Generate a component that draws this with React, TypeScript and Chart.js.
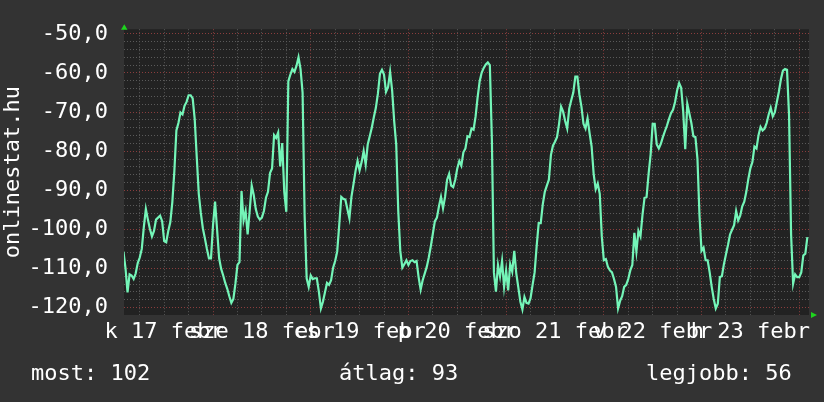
import { useEffect, useRef } from 'react';
import { Chart, registerables } from 'chart.js';

Chart.register(...registerables);

// hours since 17 Feb 00:00, one sample every half hour
const START_HOUR = 2;
const STEP_HOURS = 0.5;
const values = [
  -105.7, -110.0, -116.1, -111.5, -111.8, -112.7, -111.3, -108.6, -107.2, -105.0,
  -99.4, -94.8, -97.5, -99.9, -101.8, -100.4, -97.5, -97.0, -96.5, -97.9,
  -103.0, -103.3, -100.4, -98.2, -93.1, -85.1, -74.7, -72.8, -70.1, -70.6,
  -68.4, -67.4, -65.7, -65.7, -66.5, -71.8, -81.5, -90.9, -95.8, -99.7,
  -102.3, -105.0, -107.4, -107.4, -98.9, -92.9, -100.1, -107.4, -110.1, -111.8,
  -113.7, -115.2, -117.1, -118.8, -117.8, -113.9, -109.1, -108.4, -90.2, -97.7,
  -95.3, -101.3, -95.3, -88.8, -91.2, -94.8, -96.7, -97.5, -97.0, -95.3,
  -91.9, -90.4, -85.6, -84.4, -75.9, -76.6, -75.2, -83.9, -77.9, -90.4,
  -95.5, -62.1, -60.4, -59.0, -59.7, -58.2, -56.0, -59.0, -65.0, -96.5,
  -112.5, -114.7, -111.8, -112.7, -112.5, -112.5, -115.9, -120.2, -118.5, -116.1,
  -113.7, -114.2, -113.0, -109.8, -108.1, -105.7, -98.9, -91.7, -92.2, -92.4,
  -94.8, -97.2, -91.7, -88.5, -85.1, -82.5, -84.9, -82.8, -80.0, -83.4,
  -78.3, -76.2, -74.0, -71.3, -68.9, -65.3, -60.2, -59.2, -60.4, -64.8,
  -63.6, -59.7, -64.5, -72.3, -78.3, -95.3, -105.5, -109.8, -108.9, -107.9,
  -109.1, -108.1, -107.9, -108.4, -108.1, -112.2, -115.4, -113.0, -111.3, -109.6,
  -107.2, -104.3, -101.1, -97.9, -97.0, -94.1, -91.7, -94.6, -91.7, -87.3,
  -85.8, -88.8, -89.2, -87.3, -84.4, -82.5, -83.7, -80.3, -79.3, -76.2,
  -76.4, -74.2, -74.5, -71.1, -66.2, -62.1, -59.9, -58.7, -57.8, -57.3,
  -58.0, -77.1, -111.0, -115.9, -109.1, -112.0, -108.1, -114.7, -110.5, -115.6,
  -108.9, -110.8, -105.5, -111.3, -114.9, -118.5, -120.5, -117.3, -118.8, -119.0,
  -117.6, -114.2, -111.0, -104.3, -98.4, -98.4, -93.6, -90.4, -88.8, -87.3,
  -81.0, -78.6, -77.6, -76.4, -73.0, -68.6, -69.9, -72.3, -74.2, -69.1,
  -67.0, -65.0, -60.9, -60.9, -65.5, -68.6, -73.0, -74.2, -71.6, -75.4,
  -78.8, -85.8, -89.7, -88.3, -90.9, -101.8, -107.9, -107.6, -109.6, -110.5,
  -111.0, -112.7, -114.7, -120.2, -118.3, -117.1, -114.7, -114.2, -112.7, -110.5,
  -109.1, -100.9, -105.7, -100.4, -101.8, -96.3, -91.9, -91.7, -85.8, -80.8,
  -73.0, -73.0, -78.3, -79.3, -78.1, -76.4, -74.9, -73.5, -71.8, -70.3,
  -69.4, -67.4, -64.5, -62.6, -63.8, -69.9, -79.5, -67.9, -70.3, -72.8,
  -76.2, -76.4, -82.0, -96.5, -105.5, -104.7, -107.9, -107.9, -111.0, -114.7,
  -117.8, -120.2, -119.0, -112.2, -112.0, -108.9, -106.4, -104.0, -101.3, -100.1,
  -98.9, -95.3, -97.7, -96.5, -94.1, -92.9, -90.4, -87.1, -84.4, -82.8,
  -78.8, -79.3, -75.9, -73.8, -74.7, -74.2, -72.8, -70.6, -68.9, -71.1,
  -70.1, -67.4, -64.8, -61.6, -59.4, -59.0, -59.2, -70.8, -101.3, -113.9,
  -111.5, -112.2, -112.2, -111.0, -106.7, -106.2, -102.0,
];

// day labels, centred at noon of each day
const xTickLabels = ['k 17 febr', 'sze 18 febr', 'cs 19 febr', 'p 20 febr', 'szo 21 febr', 'v 22 febr', 'h 23 febr'];
const X_MIN = 2.13;
const X_MAX = 170.4;
const Y_MIN = -121.9;
const Y_MAX = -48.8;

const statNames = ['most', 'átlag', 'legjobb'];
const statValues = [102, 93, 56];
const yTitle = 'onlinestat.hu';

const FONT = "'DejaVu Sans Mono', monospace";
const FONT_SIZE = 22;
const BG = '#333333';
const PLOT_BG = '#222222';
const MINOR = '#5a5a5a';
const MAJOR = '#8a3d3d';
const LINE = '#74f5b8';
const ARROW = '#1ed51e';

const decor = {
  id: 'decor',
  beforeDraw(chart: any) {
    const { ctx, chartArea: a } = chart;
    ctx.save();
    ctx.fillStyle = BG;
    ctx.fillRect(0, 0, chart.width, chart.height);
    ctx.fillStyle = PLOT_BG;
    ctx.fillRect(a.left, a.top, a.right - a.left, a.bottom - a.top);
    ctx.restore();
  },
  afterDraw(chart: any) {
    const { ctx, chartArea: a } = chart;
    ctx.save();
    ctx.fillStyle = ARROW;
    ctx.beginPath();
    ctx.moveTo(a.left - 3, a.top + 0.5);
    ctx.lineTo(a.left + 3.5, a.top + 0.5);
    ctx.lineTo(a.left + 0.25, a.top - 5);
    ctx.closePath();
    ctx.fill();
    ctx.beginPath();
    ctx.moveTo(a.right + 2, a.bottom - 3);
    ctx.lineTo(a.right + 2, a.bottom + 3);
    ctx.lineTo(a.right + 8, a.bottom);
    ctx.closePath();
    ctx.fill();

    ctx.fillStyle = '#ffffff';
    ctx.font = `${FONT_SIZE}px ${FONT}`;
    ctx.textBaseline = 'middle';
    ctx.textAlign = 'left';
    const xs = [31, 339, 646];
    statNames.forEach((n, i) => {
      ctx.fillText(`${n}: ${statValues[i]}`, xs[i], 374);
    });
    ctx.restore();
  },
};

export default function App() {
  const ref = useRef<HTMLCanvasElement | null>(null);

  useEffect(() => {
    if (!ref.current) return;
    const data = values.map((v, i) => ({ x: START_HOUR + i * STEP_HOURS, y: v }));
    const chart = new Chart(ref.current, {
      type: 'line',
      data: {
        datasets: [
          {
            data,
            borderColor: LINE,
            borderWidth: 2.2,
            pointRadius: 0,
            tension: 0,
            fill: false,
          },
        ],
      },
      plugins: [decor],
      options: {
        animation: false,
        responsive: true,
        maintainAspectRatio: false,
        layout: { padding: { top: 13, right: 15, left: 0, bottom: 0 } },
        plugins: { legend: { display: false }, tooltip: { enabled: false } },
        scales: {
          x: {
            type: 'linear',
            min: X_MIN,
            max: X_MAX,
            afterBuildTicks(scale: any) {
              const t = [];
              for (let h = 6; h <= 168; h += 6) t.push({ value: h });
              scale.ticks = t;
            },
            afterFit(scale: any) {
              scale.height = 87;
            },
            grid: {
              drawTicks: false,
              lineWidth: 1,
              color: (c: any) => (c.tick && c.tick.value % 24 === 0 ? MAJOR : MINOR),
            },
            border: { display: false, dash: [1, 2] },
            ticks: {
              autoSkip: false,
              maxRotation: 0,
              minRotation: 0,
              padding: 4,
              color: '#ffffff',
              font: { family: FONT, size: FONT_SIZE },
              callback: (value: any) => {
                const h = Number(value);
                if (h % 24 === 12) return xTickLabels[(h - 12) / 24] ?? '';
                return '';
              },
            },
          },
          y: {
            type: 'linear',
            min: Y_MIN,
            max: Y_MAX,
            afterBuildTicks(scale: any) {
              const t = [];
              for (let v = -120; v <= -50; v += 2) t.push({ value: v });
              scale.ticks = t;
            },
            afterFit(scale: any) {
              scale.width = 124;
            },
            grid: {
              drawTicks: false,
              lineWidth: 1,
              color: (c: any) => (c.tick && c.tick.value % 10 === 0 ? MAJOR : MINOR),
            },
            border: { display: false, dash: [1, 2] },
            title: {
              display: true,
              text: yTitle,
              color: '#ffffff',
              font: { family: FONT, size: FONT_SIZE },
              padding: { top: 0, bottom: 0 },
            },
            ticks: {
              autoSkip: false,
              padding: 16,
              color: '#ffffff',
              font: { family: FONT, size: FONT_SIZE },
              callback: (value: any) => {
                const v = Number(value);
                if (v % 10 === 0) return v.toFixed(1).replace('.', ',');
                return '';
              },
            },
          },
        },
      },
    });
    return () => chart.destroy();
  }, []);

  return (
    <div style={{ position: 'fixed', left: 0, top: 0, width: 824, height: 402, background: BG }}>
      <canvas ref={ref} />
    </div>
  );
}
